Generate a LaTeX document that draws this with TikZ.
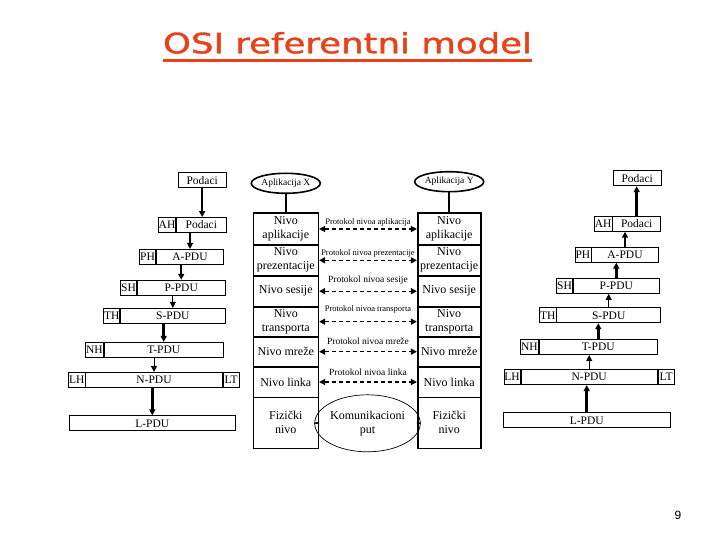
\documentclass[tikz,border=0pt]{standalone}
\usepackage{fontspec}
\setmainfont{Liberation Serif}
\setsansfont{Liberation Sans}
\newfontfamily\titlefont{DejaVu Sans}[FakeBold=1.3]
\usepackage{tikz}
\usetikzlibrary{positioning}
\usetikzlibrary{shapes.geometric}
\usetikzlibrary{arrows.meta}
\definecolor{titlered}{RGB}{232,66,26}
\tikzset{
  pdu/.style={draw, line width=0.8pt, inner xsep=0.5pt, inner ysep=0pt, minimum height=15pt, font=\fontsize{11.5}{12}\selectfont},
  hdr/.style={pdu, minimum width=16pt},
  layer/.style={draw, line width=1.6pt, inner sep=0pt, align=center, font=\fontsize{12}{14}\selectfont},
  app/.style={ellipse, draw, line width=1.6pt, inner sep=0pt, minimum width=62pt, minimum height=20pt, font=\fontsize{9.5}{10}\selectfont},
  enc/.style={-{Triangle[length=6pt,width=6pt]}, line width=2.5pt},
  encthin/.style={-{Triangle[length=6pt,width=6pt]}, line width=0.9pt},
  peer/.style={{Triangle[length=6pt,width=6pt]}-{Triangle[length=6pt,width=6pt]}, line width=1.4pt, dash pattern=on 4pt off 3pt},
  plabel/.style={font=\fontsize{9.5}{10}\selectfont, inner sep=0pt},
  psmall/.style={font=\fontsize{8.5}{9}\selectfont, inner sep=0pt}
}

\begin{document}
\begin{tikzpicture}[x=1pt,y=-1pt]
            \useasboundingbox (0,0) rectangle (720,540);

            % Title
            \node[font=\titlefont\fontsize{28}{30}\selectfont, text=titlered, inner sep=0pt, anchor=base] (title) at (347.5,53.3) {\resizebox{369pt}{\height}{OSI referentni model}};
            \draw[titlered, line width=2.5pt] ([yshift=-7pt]title.base west) -- ([yshift=-7pt]title.base east);

            % Enkapsulacija (lijevo)
            \node[pdu, minimum width=47.7pt] (lPod) at (202.2,180.3) {Podaci};
            \node[pdu, minimum width=49.3pt] (lApod) at (201.3,225) {Podaci};
            \node[hdr, left=0pt of lApod] (lAH) {AH};
            \node[pdu, minimum width=67.4pt] (lA) at (190,256.8) {A-PDU};
            \node[hdr, left=0pt of lA] (lPH) {PH};
            \node[pdu, minimum width=87.7pt] (lP) at (181.2,287.7) {P-PDU};
            \node[hdr, left=0pt of lP] (lSH) {SH};
            \node[pdu, minimum width=104.3pt] (lS) at (172.8,315.8) {S-PDU};
            \node[hdr, left=0pt of lS] (lTH) {TH};
            \node[pdu, minimum width=119.3pt] (lT) at (163.7,349.8) {T-PDU};
            \node[hdr, left=0pt of lT] (lNH) {NH};
            \node[pdu, minimum width=136.6pt] (lN) at (154,379.8) {N-PDU};
            \node[hdr, left=0pt of lN] (lLH) {LH};
            \node[hdr, right=0pt of lN] (lLT) {LT};
            \node[pdu, minimum width=166.7pt] (lL) at (152.3,423.3) {L-PDU};

            \draw[enc] (lPod.south) -- (lPod.south |- lApod.north);
            \draw[enc] (lA.north |- lApod.south) -- (lA.north);
            \draw[enc] (lP.north |- lA.south) -- (lP.north);
            \draw[encthin] (lS.north |- lP.south) -- (lS.north);
            \draw[enc] (lT.north |- lS.south) -- (lT.north);
            \draw[encthin] (lN.north |- lT.south) -- (lN.north);
            \draw[enc] (lL.north |- lN.south) -- (lL.north);

            % Aplikacija X
            \node[app] (appX) at (285.8,183.3) {Aplikacija X};
            \node[layer, minimum width=65pt, minimum height=32pt] (xApp) at (285.8,229) {Nivo\\aplikacije};
            \node[layer, minimum width=65pt, minimum height=30.7pt] (xPre) at (285.8,260.3) {Nivo\\prezentacije};
            \node[layer, minimum width=65pt, minimum height=31pt] (xSes) at (285.8,291.2) {Nivo sesije};
            \node[layer, minimum width=65pt, minimum height=30pt] (xTra) at (285.8,321.7) {Nivo\\transporta};
            \node[layer, minimum width=65pt, minimum height=30pt] (xMre) at (285.8,351.7) {Nivo mreže};
            \node[layer, minimum width=65pt, minimum height=30.6pt] (xLin) at (285.8,382) {Nivo linka};
            \node[layer, minimum width=65pt, minimum height=51pt] (xPhy) at (285.8,422.8) {Fizički\\nivo};
            \draw[line width=1.6pt] (appX.south) -- (appX.south |- xApp.north);

            % Aplikacija Y
            \node[app] (appY) at (449.2,181.7) {Aplikacija Y};
            \node[layer, minimum width=63pt, minimum height=32pt] (yApp) at (449.2,229) {Nivo\\aplikacije};
            \node[layer, minimum width=63pt, minimum height=30.7pt] (yPre) at (449.2,260.3) {Nivo\\prezentacije};
            \node[layer, minimum width=63pt, minimum height=31pt] (ySes) at (449.2,291.2) {Nivo sesije};
            \node[layer, minimum width=63pt, minimum height=30pt] (yTra) at (449.2,321.7) {Nivo\\transporta};
            \node[layer, minimum width=63pt, minimum height=30pt] (yMre) at (449.2,351.7) {Nivo mreže};
            \node[layer, minimum width=63pt, minimum height=30.6pt] (yLin) at (449.2,382) {Nivo linka};
            \node[layer, minimum width=63pt, minimum height=51pt] (yPhy) at (449.2,422.8) {Fizički\\nivo};
            \draw[line width=1.6pt] (appY.south) -- (appY.south |- yApp.north);

            % Protokoli
            \draw[peer] (xApp.east) -- (yApp.west) node[psmall, midway, above=2pt] {Protokol nivoa aplikacija};
            \draw[peer] (xPre.east) -- (yPre.west) node[psmall, midway, above=2pt] {Protokol nivoa prezentacije};
            \draw[peer] (xSes.east) -- (ySes.west) node[plabel, midway, above=6pt] {Protokol nivoa sesije};
            \draw[peer] (xTra.east) -- (yTra.west) node[psmall, midway, above=8pt] {Protokol nivoa transporta};
            \draw[peer] (xMre.east) -- (yMre.west) node[plabel, midway, above=6pt] {Protokol nivoa mreže};
            \draw[peer] (xLin.east) -- (yLin.west) node[plabel, midway, above=6pt] {Protokol nivoa linka};

            % Komunikacioni put
            \node[ellipse, draw, line width=0.7pt, inner sep=0pt, minimum width=92pt, minimum height=57pt, align=center, font=\fontsize{12}{14}\selectfont] (put) at (367.5,423.3) {Komunikacioni\\put};
            \draw[line width=1.6pt] (xPhy.east) -- (put.west);
            \draw[line width=1.6pt] (put.east) -- (yPhy.west);

            % Dekapsulacija (desno)
            \node[pdu, minimum width=47.7pt] (rPod) at (637.2,178.3) {Podaci};
            \node[pdu, minimum width=48pt] (rApod) at (636.7,223.8) {Podaci};
            \node[hdr, left=0pt of rApod] (rAH) {AH};
            \node[pdu, minimum width=66.6pt] (rA) at (625,254.8) {A-PDU};
            \node[hdr, left=0pt of rA] (rPH) {PH};
            \node[pdu, minimum width=86pt] (rP) at (616.3,286) {P-PDU};
            \node[hdr, left=0pt of rP] (rSH) {SH};
            \node[pdu, minimum width=104pt] (rS) at (608.7,315.3) {S-PDU};
            \node[hdr, left=0pt of rS] (rTH) {TH};
            \node[pdu, minimum width=118.7pt] (rT) at (598.3,347.2) {T-PDU};
            \node[hdr, left=0pt of rT] (rNH) {NH};
            \node[pdu, minimum width=136.3pt] (rN) at (589.2,377.2) {N-PDU};
            \node[hdr, left=0pt of rN] (rLH) {LH};
            \node[hdr, right=0pt of rN] (rLT) {LT};
            \node[pdu, minimum width=166.7pt] (rL) at (586.7,420.3) {L-PDU};

            \draw[enc] (rApod.north) -- (rApod.north |- rPod.south);
            \draw[enc] (rA.north) -- (rA.north |- rApod.south);
            \draw[enc] (rP.north) -- (rP.north |- rA.south);
            \draw[encthin] (rS.north) -- (rS.north |- rP.south);
            \draw[enc] (rT.north) -- (rT.north |- rS.south);
            \draw[encthin] (rN.north) -- (rN.north |- rT.south);
            \draw[enc] (rL.north) -- (rL.north |- rN.south);

            % Broj strane
            \node[font=\sffamily\fontsize{12}{12}\selectfont] (page) at (678,515) {9};
\end{tikzpicture}
\end{document}
